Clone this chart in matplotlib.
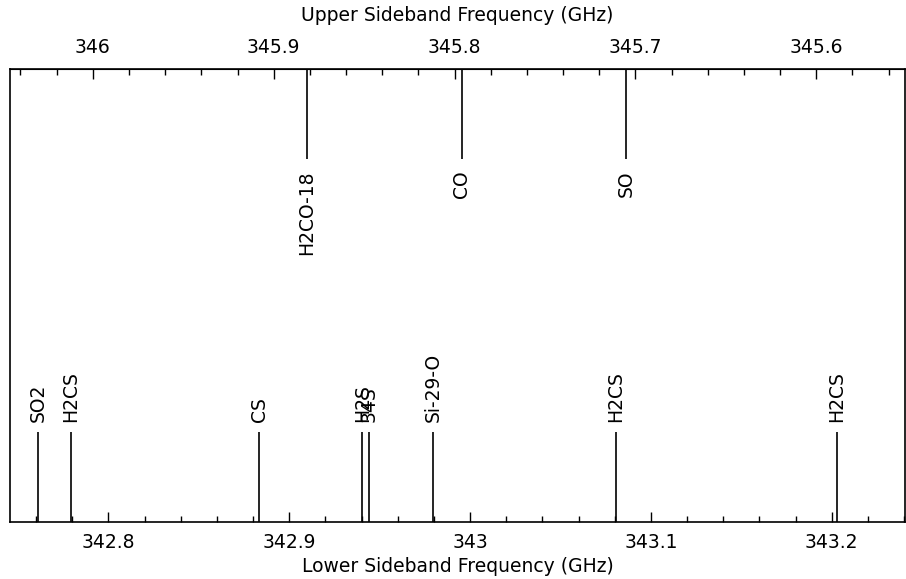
import matplotlib
matplotlib.use("Agg")
import matplotlib.pyplot as plt
from matplotlib.ticker import FixedLocator, MultipleLocator

# Lower-sideband lines (GHz) and their species
lsb_freqs = [342.7613, 342.7793, 342.8835, 342.9404, 342.9441, 342.9797, 343.0807, 343.2027]
lsb_names = ["SO2", "H2CS", "CS", "H2S", "34S", "Si-29-O", "H2CS", "H2CS"]

# Upper-sideband lines (GHz) and their species
usb_freqs = [345.8816, 345.796, 345.7052]
usb_names = ["H2CO-18", "CO", "SO"]

# Axis ranges and ticks
lsb_range = (342.7456, 343.2405)
lsb_sum = 688.7914  # LSB + USB = 2 * LO
lsb_ticks = [342.8, 342.9, 343.0, 343.1, 343.2]
lsb_ticklabels = ["342.8", "342.9", "343", "343.1", "343.2"]
usb_ticks = [346.0, 345.9, 345.8, 345.7, 345.6]
usb_ticklabels = ["346", "345.9", "345.8", "345.7", "345.6"]

FS = 13.5
plt.rcParams["font.family"] = ["DejaVu Sans"]

fig = plt.figure(figsize=(9.06, 5.79), dpi=100)
ax = fig.add_axes([10 / 906, 1 - 521.7 / 579, 895 / 906, (521.7 - 69.3) / 579])
ax.set_xlim(*lsb_range)
ax.set_ylim(0, 1)

line_len = 0.199
for f, name in zip(lsb_freqs, lsb_names):
    ax.vlines(f, 0, line_len, color="black", lw=1.2)
    ax.text(f, 0.221, name, rotation=90, ha="center", va="bottom",
            fontsize=FS, color="black")

for f, name in zip(usb_freqs, usb_names):
    x = lsb_sum - f
    ax.vlines(x, 1 - line_len, 1, color="black", lw=1.2)
    ax.text(x, 0.777, name, rotation=90, ha="center", va="top",
            fontsize=FS, color="black")

for s in ax.spines.values():
    s.set_linewidth(1.2)

ax.set_yticks([])
ax.xaxis.set_major_locator(FixedLocator(lsb_ticks))
ax.set_xticklabels(lsb_ticklabels)
ax.xaxis.set_minor_locator(MultipleLocator(0.02))
ax.tick_params(axis="x", which="major", direction="in", length=7.2, width=1.0,
               pad=8, labelsize=FS)
ax.tick_params(axis="x", which="minor", direction="in", length=4.0, width=1.0)
ax.set_xlabel("Lower Sideband Frequency (GHz)", fontsize=FS, labelpad=4)

top = ax.secondary_xaxis("top", functions=(lambda x: lsb_sum - x, lambda u: lsb_sum - u))
top.xaxis.set_major_locator(FixedLocator(usb_ticks))
top.set_xticklabels(usb_ticklabels)
top.xaxis.set_minor_locator(MultipleLocator(0.02))
top.tick_params(axis="x", which="major", direction="in", length=7.2, width=1.0,
                pad=9, labelsize=FS)
top.tick_params(axis="x", which="minor", direction="in", length=4.0, width=1.0)
top.set_xlabel("Upper Sideband Frequency (GHz)", fontsize=FS, labelpad=12)

fig.savefig("out.png", dpi=100)
